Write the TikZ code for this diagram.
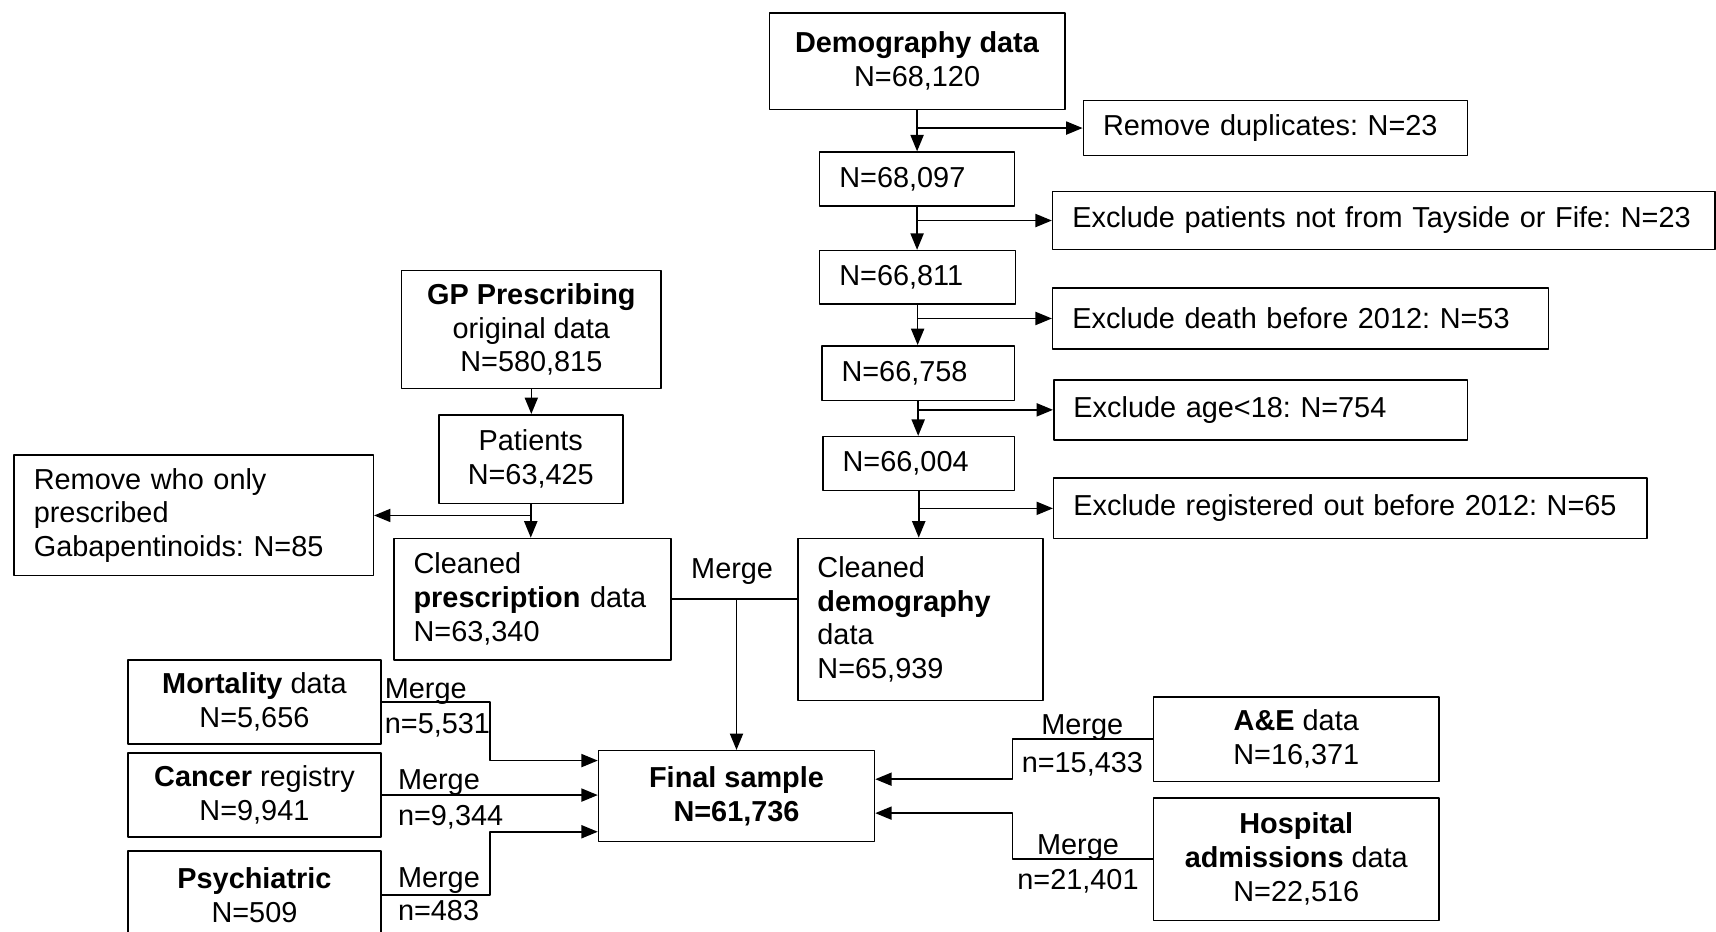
\documentclass[tikz,border=0pt]{standalone}
\usepackage{fontspec}
\setmainfont{Liberation Sans}
\usetikzlibrary{arrows.meta}

\tikzset{
  box/.style={draw, inner xsep=1.8mm, inner ysep=0pt, align=center},
  lbox/.style={box, align=left},
  lbl/.style={inner sep=0pt},
}

\begin{document}
\frenchspacing
\begin{tikzpicture}[x=0.01cm, y=-0.01cm, font=\fontsize{7.5}{8.8}\selectfont, line width=0.4pt, line join=round, >={Triangle[length=1.5mm, width=1.2mm]}]
\useasboundingbox (0,0) rectangle (1568,851);
\fill[white] (0,0) rectangle (1568,851);
\clip (0,0) rectangle (1568,851);

% demography branch
\node[box, minimum width=2.70cm, minimum height=0.88cm] (demo) at (838,56) {\textbf{Demography data}\\N=68,120};
\node[lbox, text width=3.15cm, minimum height=0.50cm] (dup) at (1165.5,117) {Remove duplicates: N=23};
\node[lbox, text width=1.42cm, minimum height=0.49cm] (n1) at (838,163.5) {N=68,097};
\node[lbox, text width=5.69cm, minimum height=0.53cm] (ex1) at (1264.5,201.5) {\mbox{Exclude patients not from Tayside or Fife: N=23}};
\node[lbox, text width=1.43cm, minimum height=0.49cm] (n2) at (838.5,253.5) {N=66,811};
\node[lbox, text width=4.17cm, minimum height=0.56cm] (ex2) at (1188.5,291) {Exclude death before 2012: N=53};
\node[lbox, text width=1.40cm, minimum height=0.50cm] (n3) at (839,341) {N=66,758};
\node[lbox, text width=3.42cm, minimum height=0.55cm] (ex3) at (1152,374.5) {Exclude age<18: N=754};
\node[lbox, text width=1.39cm, minimum height=0.49cm] (n4) at (839.5,423.5) {N=66,004};
\node[lbox, text width=5.06cm, minimum height=0.55cm] (ex4) at (1234,464.5) {Exclude registered out before 2012: N=65};
\node[lbox, text width=1.88cm, minimum height=1.48cm] (cdemo) at (841,566) {Cleaned\\\textbf{demography}\\data\\N=65,939};

\foreach \a/\b/\e in {demo/n1/dup, n1/n2/ex1, n2/n3/ex2, n3/n4/ex3, n4/cdemo/ex4}{
  \draw[->] (\a.south) -- (\a.south |- \b.north);
  \draw[->] (\a.south |- \e.west) -- (\e.west);
}

% prescribing branch
\node[box, minimum width=2.37cm, minimum height=1.08cm] (gp) at (485.5,301) {\textbf{GP Prescribing}\\original data\\N=580,815};
\node[box, minimum width=1.68cm, minimum height=0.81cm] (pat) at (485,419.5) {Patients\\N=63,425};
\node[lbox, text width=2.92cm, minimum height=1.10cm] (rem) at (177,471) {Remove who only\\prescribed\\Gabapentinoids: N=85};
\node[lbox, text width=2.17cm, minimum height=1.11cm] (cpres) at (486.5,547.5) {Cleaned\\\textbf{prescription} data\\N=63,340};

\draw[->] (gp.south) -- (gp.south |- pat.north);
\draw[->] (pat.south) -- (pat.south |- cpres.north);
\draw[->] (pat.south |- rem.east) -- (rem.east);

% final sample and linked data
\node[box, minimum width=2.52cm, minimum height=0.83cm] (final) at (673,727.5) {\textbf{Final sample}\\\textbf{N=61,736}};
\node[box, minimum width=2.31cm, minimum height=0.77cm] (mort) at (232.5,641.5) {\textbf{Mortality} data\\N=5,656};
\node[box, minimum width=2.31cm, minimum height=0.77cm] (canc) at (232.5,726.5) {\textbf{Cancer} registry\\N=9,941};
\node[box, minimum width=2.31cm, minimum height=0.81cm] (psy) at (232.5,818) {\textbf{Psychiatric}\\N=509};
\node[box, minimum width=2.61cm, minimum height=0.77cm] (ae) at (1184.5,675.5) {\textbf{A\&E} data\\N=16,371};
\node[box, minimum width=2.61cm, minimum height=1.12cm] (hosp) at (1184.5,785) {\textbf{Hospital}\\\textbf{admissions} data\\N=22,516};

\draw (cpres.east) -- (cpres.east -| cdemo.west);
\coordinate (mj) at (final.north |- cpres.east);
\draw[->] (mj) -- (final.north);
\node[lbl, anchor=base] (m0) at (669,528.5) {Merge};

\draw[->] (mort.east) -- ++(99,0) |- ([yshift=3.25mm]final.west);
\draw[->] (canc.east) -- (canc.east -| final.west);
\draw[->] (psy.east) -- ++(99,0) |- ([yshift=-3.25mm]final.west);
\draw[->] (ae.west) -- ++(-128,0) |- ([yshift=1.55mm]final.east);
\draw[->] (hosp.west) -- ++(-128,0) |- ([yshift=-1.55mm]final.east);

\node[lbl, anchor=base west] (m1) at (351,638.5) {Merge};
\node[lbl, anchor=base west] (c1) at (351,670.5) {n=5,531};
\node[lbl, anchor=base west] (m2) at (363,721.5) {Merge};
\node[lbl, anchor=base west] (c2) at (363,754.5) {n=9,344};
\node[lbl, anchor=base west] (m3) at (363,810.5) {Merge};
\node[lbl, anchor=base west] (c3) at (363,841.5) {n=483};
\node[lbl, anchor=base] (m4) at (989,671.5) {Merge};
\node[lbl, anchor=base] (c4) at (989,705.5) {n=15,433};
\node[lbl, anchor=base] (m5) at (985,780.5) {Merge};
\node[lbl, anchor=base] (c5) at (985,812.5) {n=21,401};
\end{tikzpicture}
\end{document}
